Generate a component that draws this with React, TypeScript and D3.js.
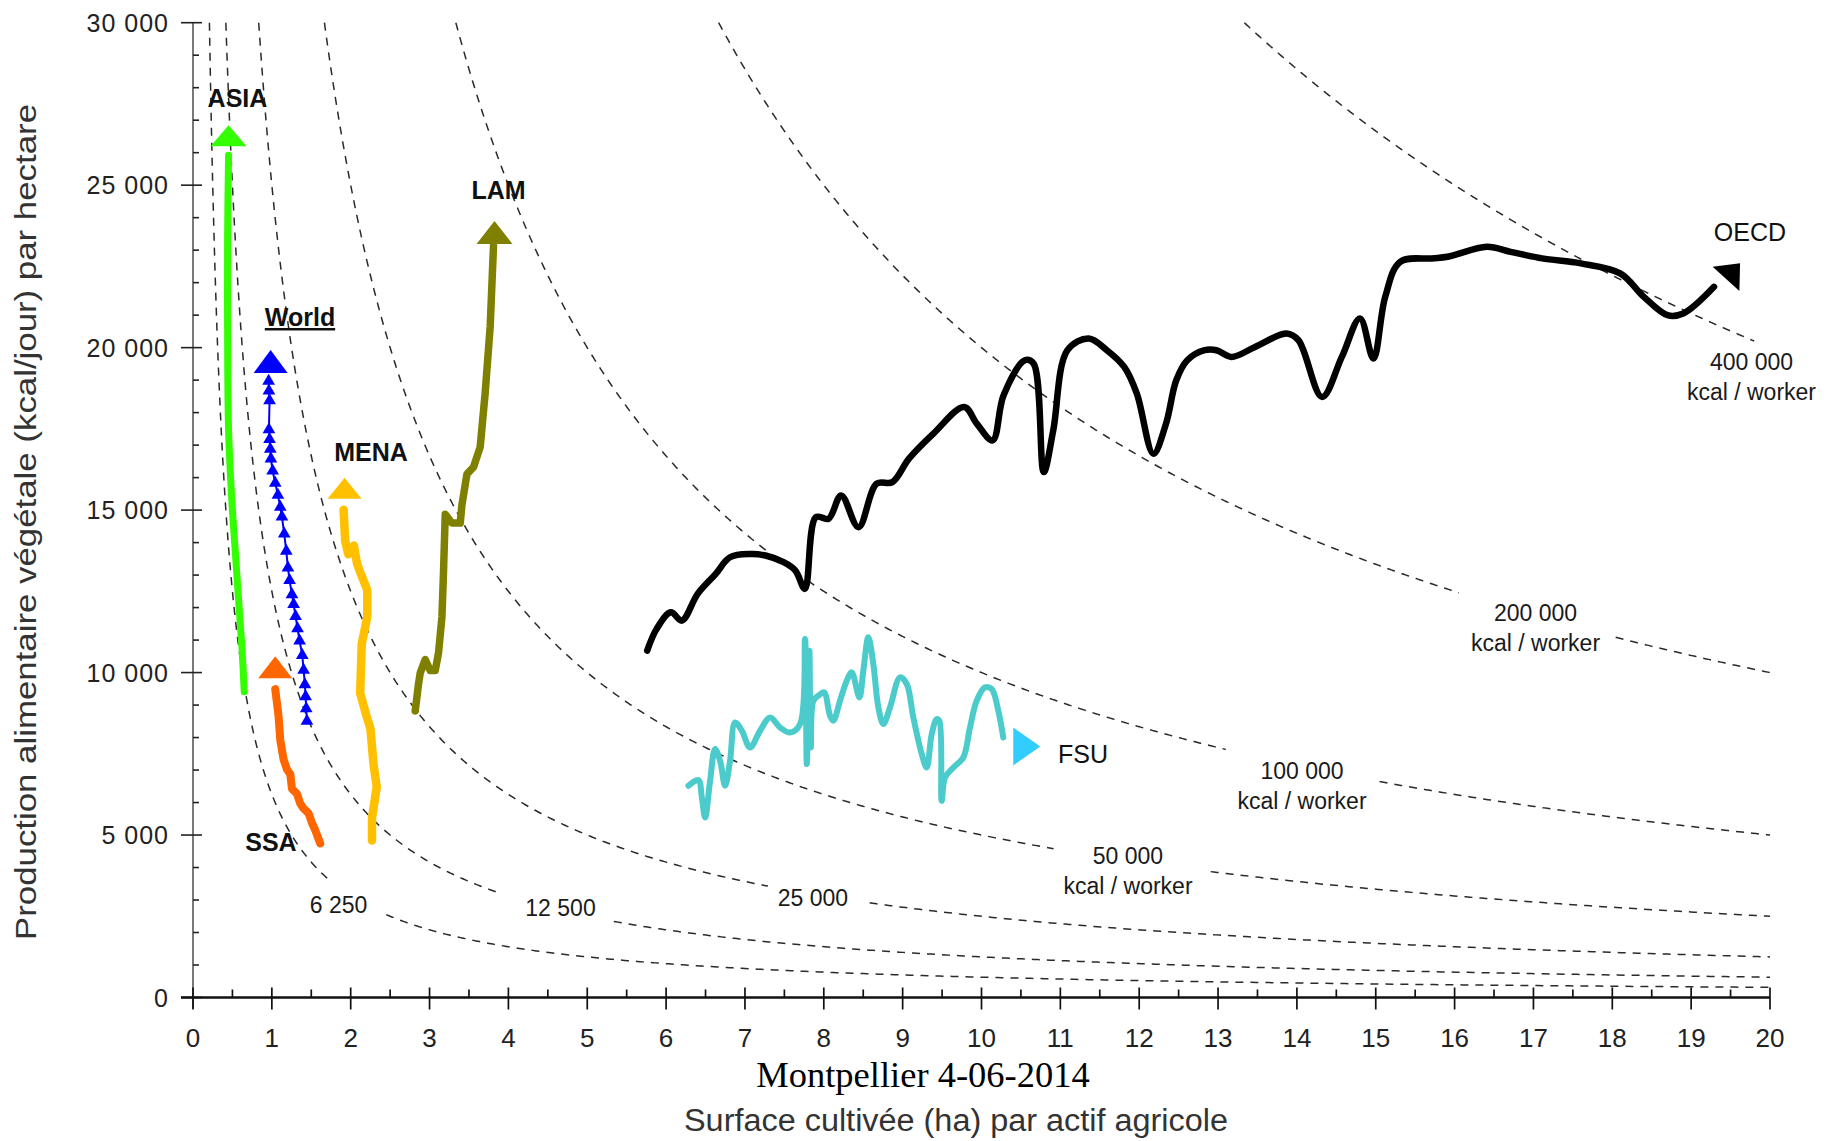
import { useEffect, useRef } from 'react';
import * as d3 from 'd3';

const W = 1831;
const H = 1141;

// [surface cultivée (ha) par actif, production végétale (kcal/jour) par ha]
const asia: [number, number][] = [
  [0.650, 9410], [0.621, 10760], [0.578, 12250], [0.536, 13740], [0.494, 15240],
  [0.451, 17480], [0.439, 20460], [0.439, 23450], [0.451, 25920],
];
const world: [number, number][] = [
  [1.445, 8510], [1.436, 8890], [1.428, 9260], [1.419, 9630], [1.403, 10080], [1.386, 10530],
  [1.352, 10980], [1.326, 11350], [1.301, 11730], [1.276, 12100], [1.255, 12400], [1.225, 12840],
  [1.204, 13220], [1.183, 13740], [1.157, 14270], [1.128, 14790], [1.107, 15090], [1.077, 15460],
  [1.043, 15830], [1.010, 16210], [0.988, 16580], [0.980, 16880], [0.971, 17180], [0.963, 17480],
  [0.971, 18370], [0.963, 18670], [0.959, 18970],
];
const ssa: [number, number][] = [
  [1.614, 4740], [1.550, 5150], [1.509, 5370], [1.466, 5670], [1.402, 5820], [1.360, 5970],
  [1.318, 6270], [1.255, 6420], [1.234, 6870], [1.192, 7020], [1.149, 7320], [1.107, 7920],
  [1.085, 8660], [1.043, 9490],
];
const mena: [number, number][] = [
  [2.27, 4830], [2.27, 5520], [2.33, 6480], [2.29, 7170], [2.25, 8270], [2.19, 8750],
  [2.12, 9370], [2.14, 10880], [2.21, 11710], [2.21, 12540], [2.12, 13090], [2.08, 13360],
  [2.04, 13910], [1.97, 13640], [1.93, 14050], [1.91, 15010],
];
const lam: [number, number][] = [
  [2.818, 8820], [2.860, 9650], [2.882, 9990], [2.945, 10400], [3.009, 10060], [3.072, 10060],
  [3.114, 10610], [3.157, 11710], [3.177, 13090], [3.199, 14870], [3.283, 14600], [3.389, 14600],
  [3.410, 15150], [3.474, 16110], [3.557, 16320], [3.642, 16940], [3.705, 18590], [3.769, 20650],
  [3.811, 23130],
];
const oecd: [number, number][] = [
  [5.76, 10675], [5.88, 11344], [6.06, 11855], [6.20, 11599], [6.40, 12422], [6.63, 13039],
  [6.81, 13550], [7.07, 13649], [7.26, 13602], [7.49, 13396], [7.64, 13140], [7.76, 12576],
  [7.90, 14783], [8.06, 14733], [8.22, 15451], [8.44, 14475], [8.67, 15812], [8.87, 15861],
  [9.08, 16582], [9.39, 17353], [9.78, 18173], [9.94, 17661], [10.14, 17147], [10.28, 18533],
  [10.55, 19612], [10.66, 19510], [10.79, 16169], [10.91, 17455], [11.09, 19920], [11.36, 20281],
  [11.59, 19920], [11.81, 19405], [11.97, 18585], [12.18, 16737], [12.34, 17661], [12.47, 18995],
  [12.61, 19612], [12.83, 19920], [12.98, 19920], [13.17, 19713], [13.47, 20022], [13.87, 20435],
  [14.02, 20228], [14.32, 18481], [14.57, 19713], [14.80, 20896], [14.97, 19664], [15.12, 21563],
  [15.31, 22641], [15.71, 22746], [15.91, 22795], [16.41, 23103], [16.71, 22949], [17.11, 22746],
  [17.60, 22592], [18.10, 22284], [18.40, 21563], [18.70, 20998], [18.90, 21051], [19.29, 21871],
];
const fsu: [number, number][] = [
  [6.283, 6515], [6.410, 6690], [6.453, 6154], [6.495, 5538], [6.558, 6669], [6.621, 7646],
  [6.685, 7285], [6.748, 6515], [6.811, 7285], [6.875, 8465], [6.960, 8210], [7.065, 7695],
  [7.192, 8210], [7.319, 8619], [7.445, 8311], [7.572, 8157], [7.699, 8416], [7.762, 11035],
  [7.784, 7183], [7.817, 10675], [7.835, 7695], [7.868, 9134], [7.931, 9288], [8.003, 9390],
  [8.079, 8672], [8.121, 8518], [8.206, 9134], [8.291, 9750], [8.354, 10006], [8.451, 9236],
  [8.501, 10058], [8.565, 11085], [8.628, 10265], [8.692, 8928], [8.755, 8416], [8.840, 8928],
  [8.967, 9852], [9.052, 9649], [9.135, 8619], [9.242, 7491], [9.305, 7079], [9.369, 8108],
  [9.432, 8570], [9.465, 8518], [9.495, 6052], [9.537, 6771], [9.643, 7079], [9.769, 7387],
  [9.854, 8311], [9.939, 9134], [10.044, 9544], [10.129, 9495], [10.213, 8826], [10.276, 8003],
];

// iso-lines : kcal / worker
const isoK = [6250, 12500, 25000, 50000, 100000, 200000, 400000];
const isoNum = ['6 250', '12 500', '25 000', '50 000', '100 000', '200 000', '400 000'];
const isoUnit = [false, false, false, true, true, true, true];

const xTicks = d3.range(0, 21);
const yTicks = [0, 5000, 10000, 15000, 20000, 25000, 30000];

const fmt = d3.formatLocale({ decimal: ',', thousands: ' ', grouping: [3], currency: ['', ''] }).format(',d');

function App() {
  const node = useRef<SVGSVGElement>(null);
  useEffect(() => {
    if (!node.current) return;
    document.body.style.margin = '0';
    document.body.style.overflow = 'hidden';
    const svg = d3.select(node.current);
    svg.selectAll('*').remove();

    const x = d3.scaleLinear().domain([0, 20]).range([193, 1770]);
    const y = d3.scaleLinear().domain([0, 30000]).range([997.5, 22.7]);
    const sans = '"Liberation Sans", Arial, Helvetica, sans-serif';

    /** iso-lines, broken where their label sits */
    const isoEnd = [20, 20, 20, 20, 20, 20, 19.8];
    const isoGap = [[1.76, 2.44], [3.85, 5.33], [7.30, 8.57], [10.92, 12.90], [13.10, 15.04], [16.06, 18.02], null];
    const isoLabelAt = [[1.847, 2600], [4.661, 2508], [7.863, 2816], [11.858, 4109], [14.065, 6725], [17.026, 11587], [19.765, 19311]];
    const gIso = svg.append('g');
    isoK.forEach((k, i) => {
      const x0 = k / 30000;
      const x1 = isoEnd[i];
      const gap = isoGap[i];
      const pts = d3.range(0, 801).map(j => x0 * Math.pow(x1 / x0, j / 800));
      const line = d3.line<number>()
        .x(d => x(d))
        .y(d => y(k / d))
        .defined(d => !gap || d < gap[0] || d > gap[1]);
      gIso.append('path')
        .attr('d', line(pts))
        .attr('fill', 'none')
        .attr('stroke', '#2a2a2a')
        .attr('stroke-width', 1.5)
        .attr('stroke-dasharray', '8 7');
      const t = gIso.append('text')
        .attr('x', x(isoLabelAt[i][0]))
        .attr('y', y(isoLabelAt[i][1]))
        .attr('text-anchor', 'middle')
        .attr('font-family', sans)
        .attr('font-size', 23)
        .attr('fill', '#1a1a1a');
      t.append('tspan').attr('x', x(isoLabelAt[i][0])).text(isoNum[i]);
      if (isoUnit[i]) t.append('tspan').attr('x', x(isoLabelAt[i][0])).attr('dy', 30).text('kcal / worker');
    });

    /** Axes */
    const gAx = svg.append('g');
    gAx.append('line')
      .attr('x1', x(0)).attr('x2', x(0))
      .attr('y1', y(30000)).attr('y2', y(0) + 11)
      .attr('stroke', '#6a6a6a').attr('stroke-width', 1.8);
    d3.range(0, 30001, 1000).forEach(v => {
      const major = v % 5000 === 0;
      gAx.append('line')
        .attr('x1', major ? x(0) - 12 : x(0)).attr('x2', x(0) + (major ? 9 : 6))
        .attr('y1', y(v)).attr('y2', y(v))
        .attr('stroke', '#222').attr('stroke-width', 1.6);
    });
    gAx.selectAll('text.yt')
      .data(yTicks)
      .enter()
      .append('text')
      .attr('class', 'yt')
      .attr('x', x(0) - 24)
      .attr('y', d => y(d))
      .attr('dy', '0.36em')
      .attr('text-anchor', 'end')
      .attr('font-family', sans)
      .attr('font-size', 25)
      .attr('letter-spacing', 1)
      .attr('fill', '#222')
      .text(d => fmt(d));

    gAx.append('line')
      .attr('x1', x(0) - 12).attr('x2', x(20))
      .attr('y1', y(0)).attr('y2', y(0))
      .attr('stroke', '#111').attr('stroke-width', 2.4);
    d3.range(0, 20.01, 0.5).forEach(v => {
      const major = Number.isInteger(v);
      gAx.append('line')
        .attr('x1', x(v)).attr('x2', x(v))
        .attr('y1', y(0) - (major ? 10 : 8)).attr('y2', y(0) + (major ? 12 : 0))
        .attr('stroke', '#111').attr('stroke-width', 1.7);
    });
    gAx.selectAll('text.xt')
      .data(xTicks)
      .enter()
      .append('text')
      .attr('class', 'xt')
      .attr('x', d => x(d))
      .attr('y', 1047)
      .attr('text-anchor', 'middle')
      .attr('font-family', sans)
      .attr('font-size', 26)
      .attr('fill', '#222')
      .text(d => d);

    /** Series */
    const gS = svg.append('g');
    const lin = d3.line<[number, number]>().x(d => x(d[0])).y(d => y(d[1]));
    const smooth = d3.line<[number, number]>().x(d => x(d[0])).y(d => y(d[1])).curve(d3.curveCatmullRom.alpha(0.5));
    const series = [
      { data: asia, color: '#33ff00', width: 7, line: smooth },
      { data: world, color: '#0000ff', width: 2, line: lin },
      { data: ssa, color: '#ff6600', width: 8, line: lin },
      { data: mena, color: '#ffc000', width: 8.5, line: lin },
      { data: lam, color: '#808000', width: 7.5, line: lin },
      { data: fsu, color: '#4bcbcb', width: 6, line: smooth },
      { data: oecd, color: '#000000', width: 6.5, line: smooth },
    ];
    series.forEach(s => {
      gS.append('path')
        .attr('d', s.line(s.data))
        .attr('fill', 'none')
        .attr('stroke', s.color)
        .attr('stroke-width', s.width)
        .attr('stroke-linejoin', 'round')
        .attr('stroke-linecap', 'round');
    });
    gS.selectAll('path.wm')
      .data(world)
      .enter()
      .append('path')
      .attr('class', 'wm')
      .attr('transform', d => `translate(${x(d[0])},${y(d[1])})`)
      .attr('d', d3.symbol(d3.symbolTriangle, 70)())
      .attr('fill', '#0000ff');

    /** Arrow heads at the end of each series */
    const arrows = [
      { data: asia, color: '#33ff00', ang: -90, dx: 0, dy: -9, len: 21, wid: 36 },
      { data: world, color: '#0000ff', ang: -90, dx: 2, dy: -8, len: 23, wid: 34 },
      { data: ssa, color: '#ff6600', ang: -90, dx: 0, dy: -11, len: 22, wid: 34 },
      { data: mena, color: '#ffc000', ang: -90, dx: 1, dy: -11, len: 21, wid: 34 },
      { data: lam, color: '#808000', ang: -90, dx: 1, dy: -2, len: 23, wid: 36 },
      { data: fsu, color: '#33ccff', ang: 0, dx: 10, dy: 9, len: 27, wid: 38 },
      { data: oecd, color: '#000000', ang: -48, dx: 12, dy: -8, len: 21, wid: 36 },
    ];
    arrows.forEach(a => {
      const last = a.data[a.data.length - 1];
      const bx = x(last[0]) + a.dx;
      const by = y(last[1]) + a.dy;
      const r = (a.ang * Math.PI) / 180;
      const c = Math.cos(r), s = Math.sin(r);
      const tip = [bx + a.len * c, by + a.len * s];
      const p1 = [bx - (a.wid / 2) * s, by + (a.wid / 2) * c];
      const p2 = [bx + (a.wid / 2) * s, by - (a.wid / 2) * c];
      gS.append('path')
        .attr('d', `M${p1[0]},${p1[1]}L${tip[0]},${tip[1]}L${p2[0]},${p2[1]}Z`)
        .attr('fill', a.color);
    });

    /** Region labels */
    const labels = [
      { text: 'ASIA', at: [0.564, 27406], bold: true, u: false },
      { text: 'World', at: [1.357, 20666], bold: true, u: true },
      { text: 'MENA', at: [2.257, 16511], bold: true, u: false },
      { text: 'LAM', at: [3.874, 24574], bold: true, u: false },
      { text: 'SSA', at: [0.989, 4509], bold: true, u: false },
      { text: 'OECD', at: [19.746, 23282], bold: false, u: false },
      { text: 'FSU', at: [11.287, 7217], bold: false, u: false },
    ];
    labels.forEach(l => {
      svg.append('text')
        .attr('x', x(l.at[0]))
        .attr('y', y(l.at[1]))
        .attr('text-anchor', 'middle')
        .attr('font-family', sans)
        .attr('font-size', 25)
        .attr('font-weight', l.bold ? 'bold' : 'normal')
        .attr('text-decoration', l.u ? 'underline' : null)
        .attr('fill', '#111')
        .text(l.text);
    });

    /** Titles */
    svg.append('text')
      .attr('transform', 'translate(36,522) rotate(-90)')
      .attr('text-anchor', 'middle')
      .attr('font-family', sans)
      .attr('font-size', 30)
      .attr('textLength', 836)
      .attr('lengthAdjust', 'spacingAndGlyphs')
      .attr('fill', '#333')
      .text('Production alimentaire végétale (kcal/jour) par hectare');
    svg.append('text')
      .attr('x', 956).attr('y', 1131)
      .attr('text-anchor', 'middle')
      .attr('font-family', sans)
      .attr('font-size', 31)
      .attr('textLength', 544)
      .attr('lengthAdjust', 'spacingAndGlyphs')
      .attr('fill', '#333')
      .text('Surface cultivée (ha) par actif agricole');
    svg.append('text')
      .attr('x', 923).attr('y', 1087)
      .attr('text-anchor', 'middle')
      .attr('font-family', '"Liberation Serif", "Times New Roman", serif')
      .attr('font-size', 36.5)
      .attr('fill', '#000')
      .text('Montpellier 4-06-2014');
  }, [node]);

  return (
    <svg ref={node} width={W} height={H} style={{ position: 'absolute', left: 0, top: 0, background: '#fff' }}></svg>
  );
}

export default App;
